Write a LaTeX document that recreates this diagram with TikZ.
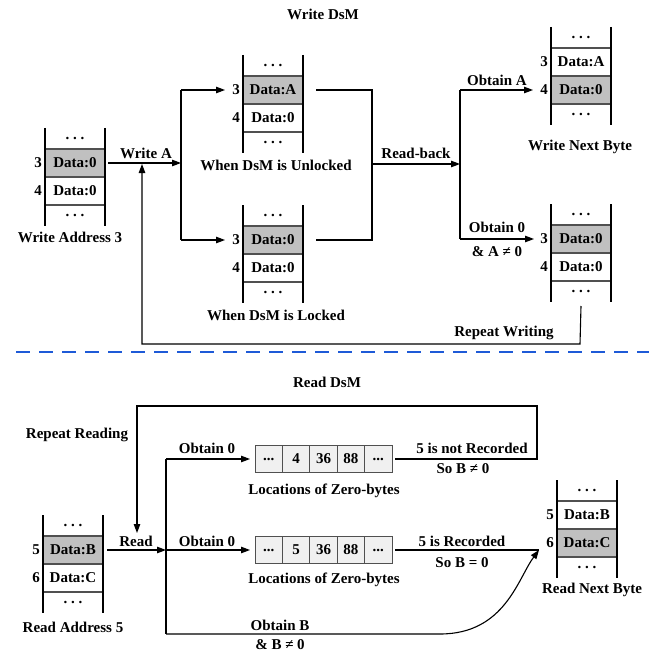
\documentclass[tikz,border=0pt]{standalone}
\usepackage{fontspec}
\setmainfont{Liberation Serif}
\usetikzlibrary{arrows.meta,calc}
\definecolor{cellgray}{RGB}{192,192,192}
\definecolor{arrgray}{RGB}{240,240,240}
\definecolor{dashblue}{RGB}{30,90,215}
\definecolor{divgray}{RGB}{80,80,80}
\newcommand{\memstack}[9]{%
  \node[cellbox,#4] (#1-a) at (#2,#3+35) {#6};
  \node[cellbox,#7] (#1-b) at (#2,#3+63) {#9};
  \node[dotcell] (#1-t) at (#2,#3+10.5) {.\ .\ .};
  \node[dotcell] (#1-d) at (#2,#3+87.5) {.\ .\ .};
  \node[numlbl] (#1-na) at (#2-33,#3+35) {#5};
  \node[numlbl] (#1-nb) at (#2-33,#3+63) {#8};
  \draw[divline] (#1-a.north west) -- (#1-a.north east)
                 (#1-b.north west) -- (#1-b.north east)
                 (#1-b.south west) -- (#1-b.south east);
  \draw[stackline] (#1-t.north west) -- (#1-d.south west)
                   (#1-t.north east) -- (#1-d.south east);
}
\begin{document}
\begin{tikzpicture}[x=1pt,y=-1pt,
  lbl/.style={font=\bfseries\fontsize{15}{18}\selectfont, inner sep=0pt},
  cellbox/.style={lbl, minimum width=60pt, minimum height=28pt, outer sep=0pt},
  graycell/.style={fill=cellgray},
  whitecell/.style={fill=white},
  dotcell/.style={lbl, minimum width=60pt, minimum height=21pt, outer sep=0pt},
  numlbl/.style={lbl, anchor=east},
  stackline/.style={line width=1.1pt},
  divline/.style={line width=1.1pt, draw=divgray},
  conn/.style={line width=1.1pt},
  arr/.style={conn, -{Triangle[length=9pt,width=6.5pt]}},
  arrcell/.style={lbl, draw=divgray, fill=arrgray, line width=0.9pt,
                  minimum width=27.4pt, minimum height=27pt, outer sep=0pt}
]
\useasboundingbox (0,0) rectangle (649,655);

% titles
\node[lbl] (t1) at (323,14) {Write DsM};
\node[lbl] (t2) at (327,382) {Read DsM};

% ---------- Write section ----------
\memstack{s1}{75}{128}{graycell}{3}{Data:0}{whitecell}{4}{Data:0}
\memstack{s2}{273}{55}{graycell}{3}{Data:A}{whitecell}{4}{Data:0}
\memstack{s3}{273}{205}{graycell}{3}{Data:0}{whitecell}{4}{Data:0}
\memstack{s4}{581}{27}{whitecell}{3}{Data:A}{graycell}{4}{Data:0}
\memstack{s5}{581}{204}{graycell}{3}{Data:0}{whitecell}{4}{Data:0}

\node[lbl] (c1) at (70,237) {Write Address 3};
\node[lbl] (c2) at (276,165) {When DsM is Unlocked};
\node[lbl] (c3) at (276,315) {When DsM is Locked};
\node[lbl] (c4) at (580,147) {Write Next Byte};

\coordinate (j1) at (181,163);
\coordinate (j1t) at (181,90);
\coordinate (j1b) at (181,240);
\coordinate (j2t) at (372,90);
\coordinate (j2b) at (372,240);
\coordinate (j2m) at (372,164);
\coordinate (j3m) at (460,164);
\coordinate (j3t) at (460,90);
\coordinate (j3b) at (460,239);
\coordinate (rw1) at (580,344);
\coordinate (rw2) at (142,344);
\coordinate (rw3) at (142,164);

\draw[arr] ([xshift=3pt]s1-a.east) -- (j1);
\draw[conn] (j1t) -- (j1b);
\draw[arr] (j1t) -- ([xshift=-18pt]s2-a.west);
\draw[arr] (j1b) -- ([xshift=-18pt]s3-a.west);
\draw[conn] ([xshift=13pt]s2-a.east) -- (j2t) -- (j2b) -- ([xshift=13pt]s3-a.east);
\draw[arr] (j2m) -- (j3m);
\draw[conn] (j3t) -- (j3b);
\draw[arr] (j3t) -- ([xshift=-18pt]s4-b.west);
\draw[arr] (j3b) -- ([xshift=-17pt]s5-a.west);
\draw[arr] ([yshift=-4pt]s5-d.south) -- (rw1) -- (rw2) -- (rw3);

\node[lbl] (l1) at (146,153) {Write A};
\node[lbl] (l2) at (416,153) {Read-back};
\node[lbl] (l3) at (497,80) {Obtain A};
\node[lbl] (l4) at (497,227) {Obtain 0};
\node[lbl] (l5) at (497,252) {\& A ≠ 0};
\node[lbl] (l6) at (504,333) {Repeat Writing};

% separator
\coordinate (d1) at (16,352);
\coordinate (d2) at (649,352);
\draw[dashblue, line width=2pt, dash pattern=on 14pt off 9pt] (d1) -- (d2);

% ---------- Read section ----------
\memstack{r1}{73}{515}{graycell}{5}{Data:B}{whitecell}{6}{Data:C}
\memstack{r2}{587}{480}{whitecell}{5}{Data:B}{graycell}{6}{Data:C}
\node[lbl] (c5) at (73,627) {Read Address 5};
\node[lbl] (c6) at (592,590) {Read Next Byte};

\node[arrcell] (a1c1) at (268.7,459) {...};
\node[arrcell] (a1c2) at (296.1,459) {4};
\node[arrcell] (a1c3) at (323.5,459) {36};
\node[arrcell] (a1c4) at (350.9,459) {88};
\node[arrcell] (a1c5) at (378.3,459) {...};
\node[arrcell] (a2c1) at (268.7,550) {...};
\node[arrcell] (a2c2) at (296.1,550) {5};
\node[arrcell] (a2c3) at (323.5,550) {36};
\node[arrcell] (a2c4) at (350.9,550) {88};
\node[arrcell] (a2c5) at (378.3,550) {...};
\node[lbl] (c7) at (324,491) {Locations of Zero-bytes};
\node[lbl] (c8) at (324,580) {Locations of Zero-bytes};

\coordinate (rd) at (166,550);
\coordinate (rt) at (166,459);
\coordinate (rb) at (166,634);
\coordinate (bc) at (440,634);
\coordinate (tip) at (539,550);
\coordinate (rr1) at (537,459);
\coordinate (rr2) at (537,406);
\coordinate (rr3) at (137,406);
\coordinate (rr4) at (137,533);

\draw[arr] ([xshift=4pt]r1-a.east) -- (rd);
\draw[conn] (rt) -- (rb);
\draw[arr] (rt) -- ([xshift=-5pt]a1c1.west);
\draw[arr] (rd) -- ([xshift=-5pt]a2c1.west);
\draw[arr] ([xshift=3pt]a1c5.east) -- (rr1) -- (rr2) -- (rr3) -- (rr4);
\draw[conn] ([xshift=3pt]a2c5.east) -- (tip);
\draw[arr] (rb) -- (bc) .. controls (505,634) and (518,578) .. (tip);

\node[lbl] (m1) at (77,435) {Repeat Reading};
\node[lbl] (m2) at (207,448) {Obtain 0};
\node[lbl] (m3) at (207,541) {Obtain 0};
\node[lbl] (m4) at (136,541) {Read};
\node[lbl] (m5) at (472,448) {5 is not Recorded};
\node[lbl] (m6) at (463,469) {So B ≠ 0};
\node[lbl] (m7) at (462,541) {5 is Recorded};
\node[lbl] (m8) at (462,563) {So B = 0};
\node[lbl] (m9) at (280,625) {Obtain B};
\node[lbl] (m10) at (280,645) {\& B ≠ 0};
\end{tikzpicture}
\end{document}
